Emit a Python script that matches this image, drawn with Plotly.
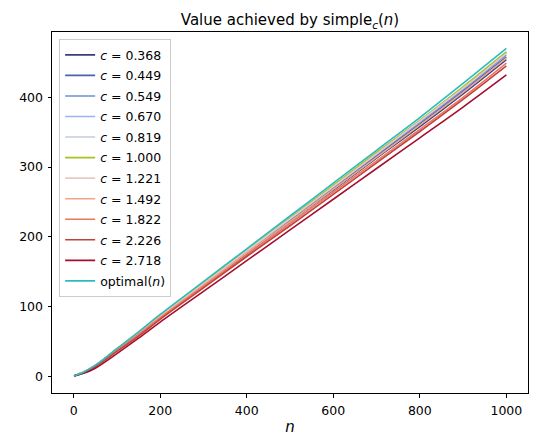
import plotly.graph_objects as go

# sample points along n
n_values = [1, 25, 50, 100, 150, 200, 300, 400, 500, 600, 700, 800, 900, 1000]

c_labels = ["0.368", "0.449", "0.549", "0.670", "0.819", "1.000",
            "1.221", "1.492", "1.822", "2.226", "2.718"]

# value achieved by simple_c(n)
simple_c036 = [1, 7, 16, 38, 61, 85, 131, 176, 222, 267, 313, 358, 405, 454]
simple_c044 = [1, 7, 16, 39, 62, 86, 132, 178, 224, 270, 316, 362, 409, 458]
simple_c054 = [1, 7, 16, 39, 62, 87, 133, 179, 225, 271, 318, 364, 411, 461]
simple_c067 = [1, 7, 16, 39, 63, 87, 134, 180, 227, 273, 320, 366, 414, 464]
simple_c081 = [1, 7, 16, 39, 63, 87, 134, 180, 227, 273, 320, 367, 415, 465]
simple_c100 = [1, 7, 16, 40, 63, 88, 134, 181, 227, 274, 321, 367, 415, 465]
simple_c122 = [1, 7, 16, 39, 62, 87, 133, 180, 226, 272, 319, 366, 413, 463]
simple_c149 = [1, 6, 15, 38, 61, 85, 131, 177, 222, 268, 314, 360, 407, 456]
simple_c182 = [1, 6, 15, 37, 60, 84, 129, 174, 219, 264, 309, 354, 400, 449]
simple_c222 = [1, 6, 14, 36, 58, 82, 127, 172, 216, 261, 306, 351, 397, 445]
simple_c271 = [1, 5, 12, 33, 55, 78, 122, 166, 210, 254, 298, 342, 386, 432]
optimal = [1, 7, 16, 40, 64, 89, 136, 183, 230, 277, 324, 371, 420, 470]

simple_series = [simple_c036, simple_c044, simple_c054, simple_c067, simple_c081,
                 simple_c100, simple_c122, simple_c149, simple_c182, simple_c222,
                 simple_c271]

line_colors = ["#353f7c", "#4a62b4", "#6f8fdc", "#9ab4ef", "#c3cbe3", "#a6c220",
               "#e8c9c3", "#f0a38a", "#e8775d", "#c4403c", "#a50f2d"]

fig = go.Figure()

for i, (label, values, color) in enumerate(zip(c_labels, simple_series, line_colors)):
    fig.add_trace(go.Scatter(
        x=n_values, y=values, mode="lines",
        line=dict(color=color, width=1.6, shape="spline"),
        name="<i>c</i> = " + label, legendgroup="g%d" % i,
    ))

fig.add_trace(go.Scatter(
    x=n_values, y=optimal, mode="lines",
    line=dict(color="#2bbbbb", width=1.6, shape="spline"),
    name="optimal(<i>n</i>)", legendgroup="opt",
))

axis_style = dict(
    showgrid=False, zeroline=False, showline=True, mirror=True,
    linecolor="black", linewidth=1, ticks="outside", ticklen=3.5,
    tickcolor="black", tickfont=dict(size=12.5, color="black"),
    ticklabelstandoff=2,
)

# the page adds an 8px body margin, so the figure is a little smaller
fig.update_layout(
    width=532, height=437,
    margin=dict(l=38, r=11, t=24, b=52),
    paper_bgcolor="white", plot_bgcolor="white",
    font=dict(family="DejaVu Sans", size=12.5, color="black"),
    title=dict(text="Value achieved by simple<sub><i>c</i></sub>(<i>n</i>)",
               x=0.5, xref="paper", xanchor="center", y=0.972, yanchor="middle",
               font=dict(size=15)),
    legend=dict(x=0.015, y=0.98, xanchor="left", yanchor="top",
                bgcolor="rgba(255,255,255,0.8)", bordercolor="#cccccc",
                borderwidth=1, font=dict(size=12.5), tracegroupgap=1.3),
    showlegend=True,
)

fig.update_xaxes(range=[-50, 1050], tickvals=[0, 200, 400, 600, 800, 1000],
                 title=dict(text="<i>n</i>", standoff=4), **axis_style)
fig.update_yaxes(range=[-23.5, 493.5], tickvals=[0, 100, 200, 300, 400],
                 **axis_style)

fig.write_html("out.html")
